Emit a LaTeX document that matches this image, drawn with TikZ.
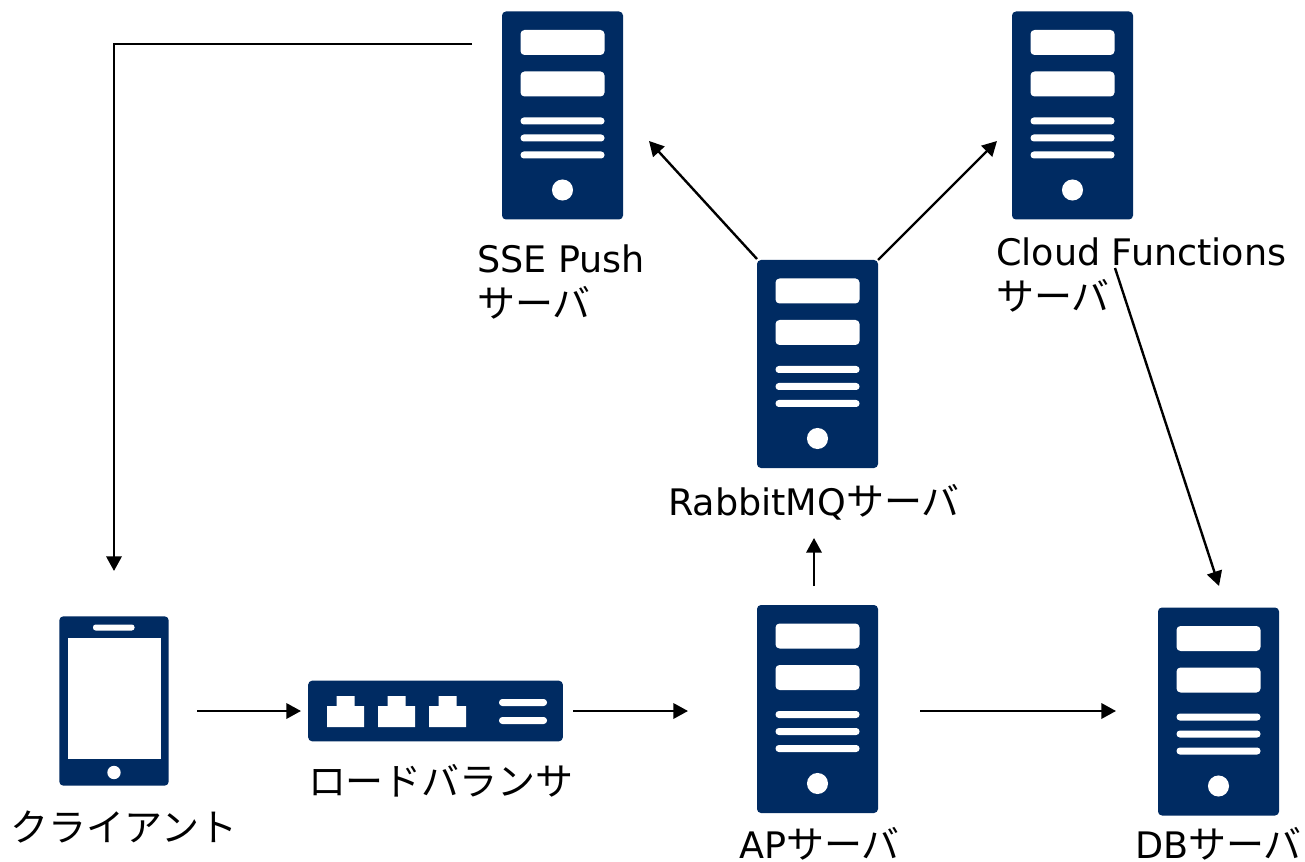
\documentclass[tikz,border=0pt]{standalone}
\usepackage{fontspec}
\setmainfont{DejaVu Sans}
\newfontfamily\cjk[Scale=1.04]{Noto Sans CJK JP}
\usetikzlibrary{arrows.meta}
\definecolor{navy}{RGB}{0,43,98}
\tikzset{
  x=0.75pt,y=-0.75pt,
  devicebox/.style={fill=navy,draw=none,rounded corners=3pt,inner sep=0pt,outer sep=0pt},
  cut/.style={fill=white,draw=none},
  lab/.style={anchor=west,inner sep=0pt,outer sep=0pt,font=\fontsize{27.4pt}{33.5pt}\selectfont,text=black,align=left},
  conn/.style={draw=black,line width=1.8pt,-{Triangle[length=11pt,width=11.5pt]}},
  serverbox/.style={devicebox,minimum width=90.75pt,minimum height=156pt}
}
\newcommand{\serverat}[3]{%
  \node[serverbox] (#1) at (#2,#3) {};
  \begin{scope}[shift={(#2,#3)}]
    \fill[cut,rounded corners=3pt] (-42,-85.5) rectangle (42,-60.5);
    \fill[cut,rounded corners=3pt] (-42,-44) rectangle (42,-19);
    \foreach \yy in {5.5,22.5,39.5}{\fill[cut,rounded corners=2.5pt] (-42,\yy-3.5) rectangle (42,\yy+3.5);}
    \fill[cut] (0,74.5) circle (7.9pt);
  \end{scope}}
\begin{document}
\begin{tikzpicture}
\useasboundingbox (0,0) rectangle (1305,862);
\fill[white] (0,0) rectangle (1305,862);
\serverat{sse}{562.5}{115.5}
\serverat{cf}{1072.5}{115.5}
\serverat{mq}{817.5}{364}
\serverat{ap}{817.5}{709}
\serverat{db}{1218.5}{711.5}
% client
\node[devicebox,minimum width=82pt,minimum height=127pt] (client) at (114,701) {};
\fill[cut,rounded corners=2pt] (93,624.5) rectangle (134.5,630.5);
\fill[cut] (67.5,638) rectangle (160.5,759);
\fill[cut] (114,772.5) circle (5pt);
% load balancer
\node[devicebox,minimum width=191pt,minimum height=45.5pt] (lb) at (435.5,711) {};
\foreach \xx in {345.5,396.5,447.5}{
  \fill[cut] (\xx-18.5,727) -- (\xx+18.5,727) -- (\xx+18.5,706) -- (\xx+9,706) -- (\xx+9,696) -- (\xx-9,696) -- (\xx-9,706) -- (\xx-18.5,706) -- cycle;
}
\fill[cut,rounded corners=2.5pt] (499,699) rectangle (547,706);
\fill[cut,rounded corners=2.5pt] (499,717) rectangle (547,724);
% labels
\node[lab] (lsse) at (477,282) {SSE Push\\{\cjk サーバ}};
\node[lab] (lcf) at (996,275) {Cloud Functions\\{\cjk サーバ}};
\node[lab] (lmq) at (668,502) {RabbitMQ{\cjk サーバ}};
\node[lab] (lclient) at (11,827) {{\cjk クライアント}};
\node[lab] (llb) at (308,781) {{\cjk ロードバランサ}};
\node[lab] (lap) at (739,844) {AP{\cjk サーバ}};
\node[lab] (ldb) at (1135,844) {DB{\cjk サーバ}};
% free ends
\coordinate (a1) at (472,44);
\coordinate (a2) at (114,44);
\coordinate (a3) at (114,571);
\coordinate (b1) at (197,711);
\coordinate (b2) at (301,711);
\coordinate (c1) at (573,711);
\coordinate (c2) at (688,711);
\coordinate (d1) at (920,711);
\coordinate (d2) at (1116,711);
\coordinate (e1) at (814,586);
\coordinate (e2) at (814,538);
\coordinate (f1) at (757,259);
\coordinate (f2) at (649,141);
\coordinate (g1) at (878,260);
\coordinate (g2) at (997,141);
\coordinate (h1) at (1115,268);
\coordinate (h2) at (1219,586);
\draw[conn] (a1) -- (a2) -- (a3);
\draw[conn] (b1) -- (b2);
\draw[conn] (c1) -- (c2);
\draw[conn] (d1) -- (d2);
\draw[conn] (e1) -- (e2);
\draw[conn] (f1) -- (f2);
\draw[conn] (g1) -- (g2);
\draw[conn] (h1) -- (h2);
\end{tikzpicture}
\end{document}
